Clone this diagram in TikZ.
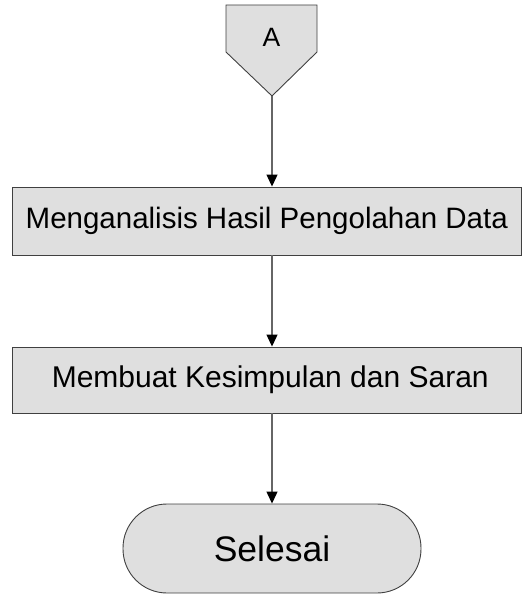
\documentclass[tikz,border=0pt]{standalone}
\usepackage{fontspec}
\setmainfont{Liberation Sans}
\usetikzlibrary{arrows.meta}
\begin{document}
\begin{tikzpicture}[x=1pt,y=-1pt,
  box/.style={draw=black!75, fill=gray!25, line width=0.9pt, inner sep=0pt},
  conn/.style={draw=black!60, line width=1.2pt, -{Triangle[length=12pt,width=11pt,color=black]}}]
\useasboundingbox (0,0) rectangle (522,594);
\path[box] (226,5) -- (317,5) -- (317,52) -- (272,96) -- (226,52) -- cycle;
\node[font=\fontsize{26.5}{26.5}\selectfont] (A) at (271.5,37.5) {A};
\coordinate (Atip) at (272,96);
\node[box, minimum width=509.5pt, minimum height=68pt, font=\fontsize{29.5}{29.5}\selectfont] (m1) at (266.75,221) {Menganalisis Hasil Pengolahan Data};
\node[box, minimum width=509.5pt, minimum height=66pt, font=\fontsize{30}{30}\selectfont] (m2) at (266.75,380) {\hspace*{7pt}Membuat Kesimpulan dan Saran};
\node[box, rounded corners=44pt, minimum width=298pt, minimum height=89pt, font=\fontsize{35.5}{35.5}\selectfont] (end) at (272,548.5) {Selesai};
\draw[conn] (Atip) -- (Atip |- m1.north);
\draw[conn] (m1.south -| Atip) -- (m2.north -| Atip);
\draw[conn] (m2.south -| Atip) -- (end.north);
\end{tikzpicture}
\end{document}
